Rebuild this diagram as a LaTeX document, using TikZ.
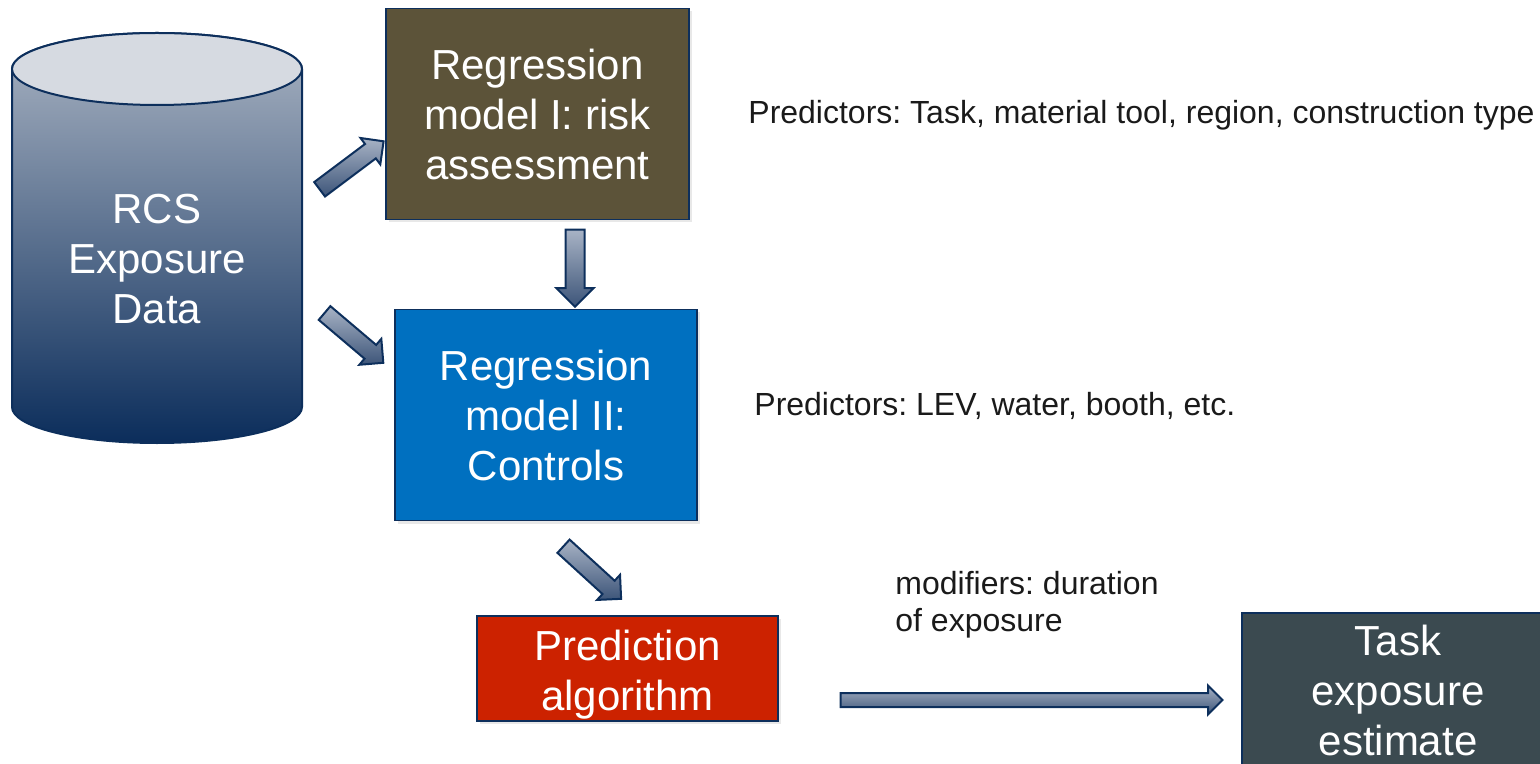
\documentclass[tikz,border=0pt]{standalone}
\usepackage{fontspec}
\setmainfont{Liberation Sans}
\usetikzlibrary{shapes.arrows,shadows}
\frenchspacing
\definecolor{navy}{HTML}{0D2F5C}
\definecolor{boxolive}{HTML}{5C5339}
\definecolor{boxblue}{HTML}{0070C0}
\definecolor{boxred}{HTML}{CC2200}
\definecolor{boxslate}{HTML}{3B4A50}
\definecolor{cyltop}{HTML}{D6DAE1}
\definecolor{cyllight}{HTML}{AAB4C3}
\definecolor{cyldark}{HTML}{0B2D5B}
\definecolor{arrowlight}{HTML}{A8B3C5}
\definecolor{arrowdark}{HTML}{3D5579}
\definecolor{sidetext}{HTML}{1A1A1A}
\begin{document}
\begin{tikzpicture}[x=0.5pt,y=-0.5pt,
  box/.style={draw=navy, line width=0.75pt, text=white, align=center,
    font=\fontsize{21}{25}\selectfont, inner sep=0pt,
    drop shadow={opacity=0.18, shadow xshift=1.5pt, shadow yshift=-1.5pt}},
  boxtext/.style={text=white, align=center, font=\fontsize{21}{25}\selectfont, inner sep=0pt},
  barrow/.style={single arrow, draw=navy, line width=1pt,
    top color=arrowlight, bottom color=arrowdark,
    inner xsep=0pt, outer sep=0pt, single arrow head indent=0pt,
    sloped, allow upside down},
  side/.style={text=sidetext, font=\fontsize{16}{18.5}\selectfont, inner sep=0pt}
]
\useasboundingbox (0,0) rectangle (1540,764);

% cylinder
\path[top color=cyllight, bottom color=cyldark, draw=navy, line width=1pt]
  (12,69) -- (12,407)
  arc[start angle=180, end angle=360, x radius=72.5pt, y radius=18pt]
  -- (302,69)
  arc[start angle=0, end angle=180, x radius=72.5pt, y radius=18pt] -- cycle;
\draw[fill=cyltop, draw=navy, line width=1pt] (157,69) ellipse [x radius=72.5pt, y radius=18pt];
\node[boxtext] (db) at (157,259) {RCS\\Exposure\\Data};

% boxes
\node[box, fill=boxolive, minimum width=151.5pt, minimum height=105.5pt] (rm1) at (537.5,114) {Regression\\model I: risk\\assessment};
\node[box, fill=boxblue, minimum width=151pt, minimum height=105.5pt] (rm2) at (546,415) {Regression\\model II:\\Controls};
\node[box, fill=boxred, minimum width=150.5pt, minimum height=52.5pt] (pred) at (627.5,668.5) {};
\node[boxtext] (predtext) at (627.5,675) {Prediction\\algorithm};
\node[box, fill=boxslate, minimum width=156pt, minimum height=77pt] (est) at (1398,690) {Task\\exposure\\estimate};

% side texts
\node[side, anchor=base west] (p1) at (748,123.5) {Predictors: Task, material tool, region, construction type};
\node[side, anchor=base west] (p2) at (754,415.5) {Predictors: LEV, water, booth, etc.};
\node[side, anchor=west, align=left] (mod) at (895,605) {modifiers: duration\\of exposure};

% arrow end points
\coordinate (a1s) at (316,192);
\coordinate (a1e) at (380,144);
\coordinate (a2s) at (321,310);
\coordinate (a2e) at (380,360);
\coordinate (a3s) at (575,225);
\coordinate (a3e) at (575,302);
\coordinate (a4s) at (560,543);
\coordinate (a4e) at (618,596);
\coordinate (a5s) at (837,700);
\coordinate (a5e) at (1219,700);

% block arrows
\path (a1s) -- node[barrow, minimum height=40pt, inner ysep=4pt, single arrow head extend=3.75pt] {} (a1e);
\path (a2s) -- node[barrow, minimum height=38.5pt, inner ysep=4pt, single arrow head extend=4pt] {} (a2e);
\path (a3s) -- node[barrow, minimum height=38.5pt, inner ysep=4.25pt, single arrow head extend=4.5pt] {} (a3e);
\path (a4s) -- node[barrow, minimum height=39pt, inner ysep=4pt, single arrow head extend=4pt] {} (a4e);
\path (a5s) -- node[barrow, minimum height=191pt, inner ysep=3pt, single arrow head extend=3.75pt] {} (a5e);
\end{tikzpicture}
\end{document}
